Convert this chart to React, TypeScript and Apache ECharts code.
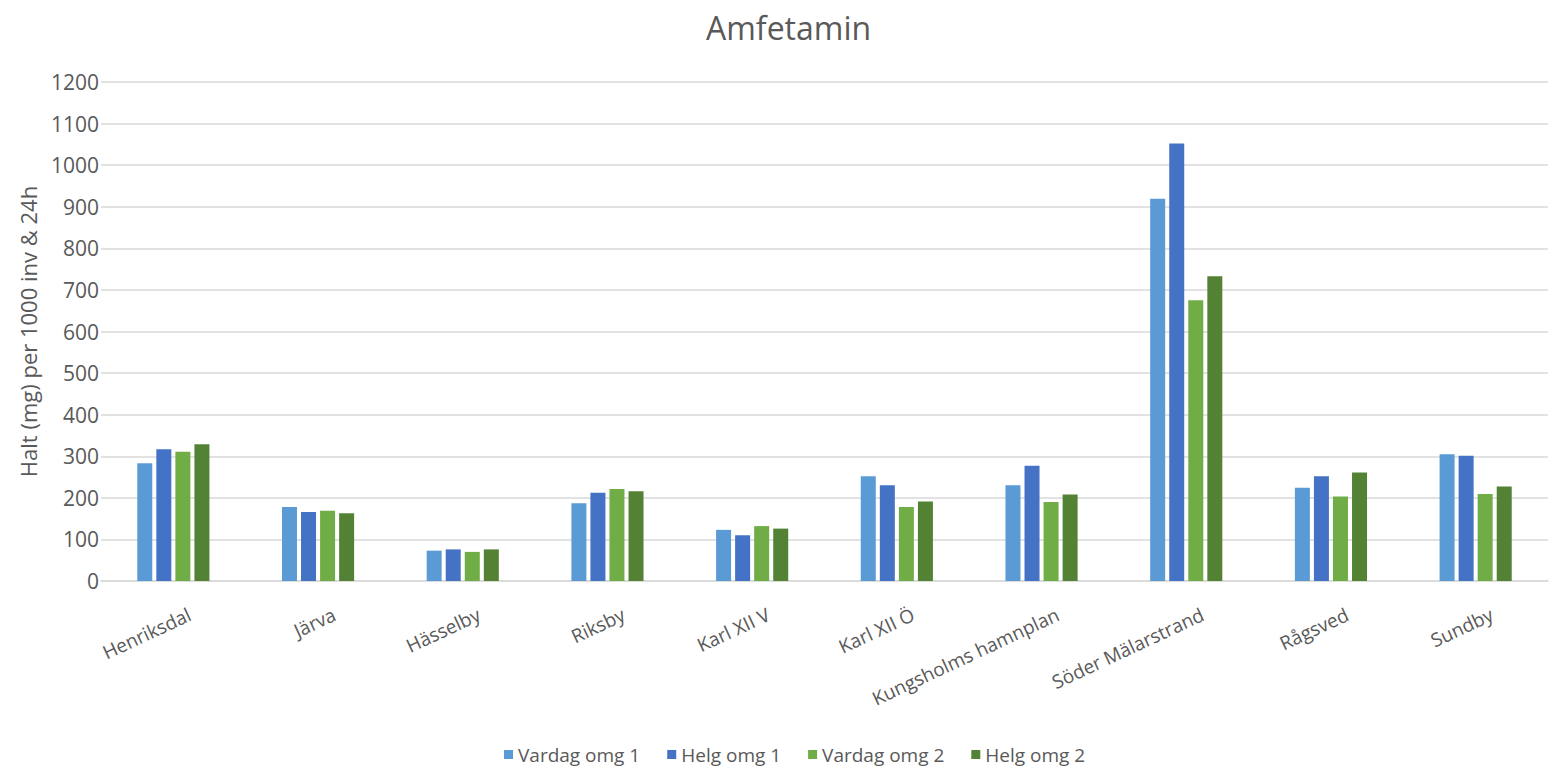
import React, { useEffect, useRef } from "react";
import * as echarts from "echarts";

const categories = [
  "Henriksdal",
  "Järva",
  "Hässelby",
  "Riksby",
  "Karl XII V",
  "Karl XII Ö",
  "Kungsholms hamnplan",
  "Söder Mälarstrand",
  "Rågsved",
  "Sundby",
];

const vardagOmg1 = [283, 178, 73, 187, 123, 252, 230, 919, 224, 305];
const helgOmg1 = [317, 166, 76, 212, 110, 230, 277, 1052, 252, 301];
const vardagOmg2 = [311, 169, 70, 221, 132, 178, 190, 675, 203, 209];
const helgOmg2 = [329, 163, 76, 216, 126, 191, 208, 733, 261, 227];

const seriesNames = ["Vardag omg 1", "Helg omg 1", "Vardag omg 2", "Helg omg 2"];
const seriesColors = ["#5B9BD5", "#4472C4", "#70AD47", "#548235"];
const seriesData = [vardagOmg1, helgOmg1, vardagOmg2, helgOmg2];

const FONT = "'Open Sans', sans-serif";
const TEXT = "#595959";

export default function App() {
  const ref = useRef<HTMLDivElement>(null);

  useEffect(() => {
    if (!ref.current) return;
    const chart = echarts.init(ref.current, null, { renderer: "svg" });
    chart.setOption({
      animation: false,
      backgroundColor: "#ffffff",
      textStyle: { fontFamily: FONT },
      title: {
        text: "Amfetamin",
        left: 701,
        top: 6,
        textStyle: { fontFamily: FONT, fontSize: 32, fontWeight: "normal", color: TEXT },
      },
      legend: {
        bottom: 0,
        left: 499,
        itemWidth: 9,
        itemHeight: 9,
        itemGap: 27,
        icon: "rect",
        textStyle: { fontFamily: FONT, fontSize: 19, color: TEXT },
        data: seriesNames,
      },
      grid: { left: 101, right: 7, top: 82, bottom: 188, containLabel: false },
      xAxis: {
        type: "category",
        data: categories,
        axisLine: { show: true, lineStyle: { color: "#d9d9d9", width: 1.5 } },
        axisTick: { show: false },
        axisLabel: {
          interval: 0,
          rotate: 25,
          margin: 40,
          padding: [0, -18, 0, 0],
          fontFamily: FONT,
          fontSize: 19,
          color: TEXT,
        },
      },
      yAxis: {
        type: "value",
        min: 0,
        max: 1200,
        interval: 100,
        name: "Halt (mg) per 1000 inv & 24h",
        nameLocation: "middle",
        nameGap: 62,
        nameTextStyle: { fontFamily: FONT, fontSize: 22, color: TEXT },
        axisLine: { show: false },
        axisTick: { show: false },
        axisLabel: {
          fontFamily: FONT,
          fontSize: 21,
          color: TEXT,
          margin: 2,
          formatter: (v: number) => String(v),
        },
        splitLine: { lineStyle: { color: "#d9d9d9", width: 1.5 } },
      },
      series: seriesNames.map((name, i) => ({
        name,
        type: "bar",
        data: seriesData[i],
        barWidth: 15,
        barGap: "27%",
        itemStyle: { color: seriesColors[i] },
      })),
    });
    return () => chart.dispose();
  }, []);

  return (
    <div
      ref={ref}
      style={{ position: "absolute", left: 0, top: 0, width: 1555, height: 769 }}
    />
  );
}
